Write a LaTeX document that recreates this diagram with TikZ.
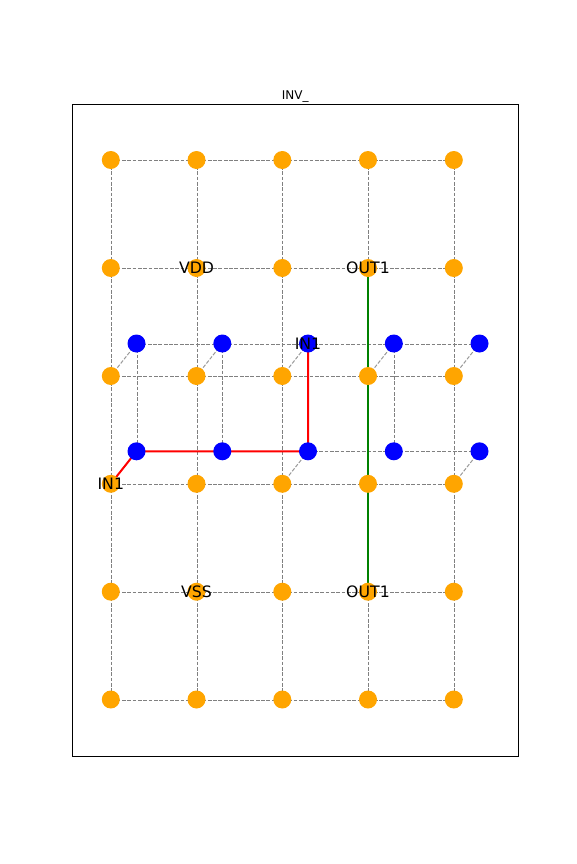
\documentclass[tikz,border=0pt]{standalone}
\usepackage{fontspec}
\setmainfont{DejaVu Sans}
\usetikzlibrary{backgrounds}
\definecolor{mplgray}{HTML}{808080}
\definecolor{mplorange}{HTML}{FFA500}
\definecolor{mplblue}{HTML}{0000FF}
\definecolor{mplred}{HTML}{FF0000}
\definecolor{mplgreen}{HTML}{008000}
\tikzset{
  x=0.75pt,y=-0.75pt,
  nudge/.style={shift={(0.6,0.5)}},
  orangedot/.style={circle,fill=mplorange,draw=none,inner sep=0pt,minimum size=13.5pt},
  bluedot/.style={circle,fill=mplblue,draw=none,inner sep=0pt,minimum size=13.5pt},
  gridedge/.style={draw=mplgray,line width=0.75pt,dash pattern=on 2.8pt off 1.2pt},
  viaedge/.style={gridedge,draw=mplgray!80},
  rededge/.style={draw=mplred,line width=1.5pt},
  greenedge/.style={draw=mplgreen,line width=1.5pt},
  pinlabel/.style={font=\fontsize{11.8pt}{12pt}\selectfont,text=black,inner sep=0pt,anchor=center},
  titlelabel/.style={font=\fontsize{9pt}{9pt}\selectfont,text=black,inner sep=0pt,anchor=base}
}
\begin{document}
\begin{tikzpicture}
\useasboundingbox (0,0) rectangle (576,864);
\draw[line width=0.7pt,black] (72,104.2) rectangle (518.4,756);
\node[titlelabel] (title) at (295.2,99.5) {INV\_};
% orange layer
\foreach \c/\x in {0/110.8,1/196.5,2/282.3,3/368,4/453.8}
  \foreach \r/\y in {0/160,1/268,2/376,3/483.8,4/591.7,5/699.5}
    \node[orangedot] (o\c\r) at (\x,\y) {};
% blue layer
\foreach \c/\x in {0/136.5,1/222.3,2/308,3/393.8,4/479.5}
  \foreach \r/\y in {0/343.5,1/451.3}
    \node[bluedot] (b\c\r) at (\x,\y) {};
\begin{scope}[on background layer]
  \foreach \r in {0,...,5}
    \foreach \a/\b in {0/1,1/2,2/3,3/4}
      \draw[gridedge] ([nudge]o\a\r.center) -- ([nudge]o\b\r.center);
  \foreach \c in {0,...,4}
    \foreach \a/\b in {0/1,1/2,2/3,3/4,4/5}
      \draw[gridedge] ([nudge]o\c\a.center) -- ([nudge]o\c\b.center);
  \foreach \a/\b in {0/1,1/2,2/3,3/4}
    \draw[gridedge] ([nudge]b\a0.center) -- ([nudge]b\b0.center);
  \foreach \a/\b in {2/3,3/4}
    \draw[gridedge] ([nudge]b\a1.center) -- ([nudge]b\b1.center);
  \foreach \c in {0,1,3}
    \draw[gridedge] ([nudge]b\c0.center) -- ([nudge]b\c1.center);
  \foreach \c in {0,1,2,3,4}
    \draw[viaedge] (o\c2.center) -- (b\c0.center);
  \foreach \c in {2,4}
    \draw[viaedge] (o\c3.center) -- (b\c1.center);
  \draw[rededge] (o03.center) -- (b01.center) -- (b11.center) -- (b21.center) -- (b20.center);
  \draw[greenedge] (o31.center) -- (o32.center) -- (o33.center) -- (o34.center);
\end{scope}
\node[pinlabel] (lvdd) at (o11) {VDD};
\node[pinlabel] (lout1) at (o31) {OUT1};
\node[pinlabel] (lin1) at (b20) {IN1};
\node[pinlabel] (lin2) at (o03) {IN1};
\node[pinlabel] (lvss) at (o14) {VSS};
\node[pinlabel] (lout2) at (o34) {OUT1};
\end{tikzpicture}
\end{document}
